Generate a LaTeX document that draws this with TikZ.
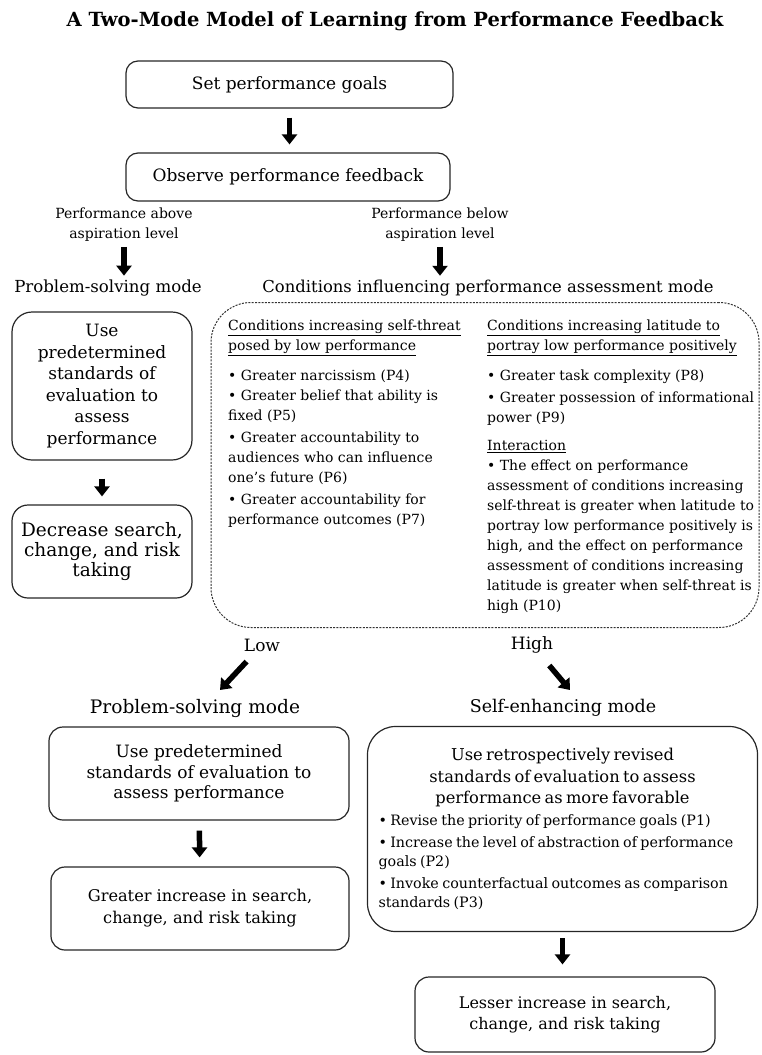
\documentclass[tikz,border=0pt]{standalone}
\usepackage{fontspec}
\setmainfont{DejaVu Serif}
\usepackage{tikz}
\usetikzlibrary{arrows.meta,positioning,calc}
\newcommand{\fsz}[2]{\fontsize{#1}{#2}\selectfont}
\tikzset{
	rbox/.style={draw=black!85, line width=1.2pt, rounded corners=12pt, align=center, inner sep=4pt},
	lbl/.style={align=center, inner sep=2pt},
	zone/.style={draw=black!80, line width=1pt, dash pattern=on 2pt off 1.3pt, rounded corners=40pt},
	col/.style={anchor=north west, align=left, inner sep=0pt, font=\fsz{14}{20}},
	blkarr/.style={line width=5.5pt, -{Triangle[width=15pt,length=10pt]}},
}

\begin{document}
\begin{tikzpicture}[x=1pt, y=-1pt, >=latex]
				\useasboundingbox (0,0) rectangle (762,1055);
				\node[lbl, font=\fsz{19.5}{22}\bfseries] at (395,21) (title) {A Two-Mode Model of Learning from Performance Feedback};
				\node[rbox, minimum width=327pt, minimum height=47pt, font=\fsz{17}{20}] at (289.5,84.5) (goals) {Set performance goals};
				\node[rbox, minimum width=324pt, minimum height=48pt, font=\fsz{17}{20}] at (288,177) (observe) {Observe performance feedback};
				\node[lbl, font=\fsz{14}{20}] at (124,225) (above) {Performance above\\aspiration level};
				\node[lbl, font=\fsz{14}{20}] at (440,225) (below) {Performance below\\aspiration level};
				\node[lbl, font=\fsz{16.6}{20}] at (108,288) (psmtop) {Problem-solving mode};
				\node[lbl, font=\fsz{16.4}{20}] at (488,288) (condlbl) {Conditions influencing performance assessment mode};
				\node[zone, minimum width=548pt, minimum height=325pt] at (485,465) (condzone) {};
				\node[rbox, rounded corners=20pt, minimum width=180pt, minimum height=148pt, font=\fsz{17}{21.5}] at (102,386) (useA) {Use\\predetermined\\standards of\\evaluation to\\assess\\performance};
				\node[rbox, rounded corners=16pt, minimum width=180pt, minimum height=93pt, font=\fsz{18.5}{20}] at (102,551.5) (decr) {Decrease search,\\change, and risk\\taking};
				\node[col] at (228,320) (threat) {\underline{Conditions increasing self-threat}\\
					\underline{posed by low performance}\\[10pt]
					• Greater narcissism (P4)\\
					• Greater belief that ability is\\
					fixed (P5)\\[2pt]
					• Greater accountability to\\
					audiences who can influence\\
					one's future (P6)\\[2pt]
					• Greater accountability for\\
					performance outcomes (P7)};
				\node[col] at (487,320) (latit) {\underline{Conditions increasing latitude to}\\
					\underline{portray low performance positively}\\[10pt]
					• Greater task complexity (P8)\\[2pt]
					• Greater possession of informational\\
					power (P9)\\[8pt]
					\underline{Interaction}\\
					• The effect on performance\\
					assessment of conditions increasing\\
					self-threat is greater when latitude to\\
					portray low performance positively is\\
					high, and the effect on performance\\
					assessment of conditions increasing\\
					latitude is greater when self-threat is\\
					high (P10)};
				\node[lbl, font=\fsz{17}{20}] at (262,645) (low) {Low};
				\node[lbl, font=\fsz{17}{20}] at (532,645) (high) {High};
				\node[lbl, font=\fsz{18.6}{20}] at (195,708) (psmbot) {Problem-solving mode};
				\node[lbl, font=\fsz{17.5}{20}] at (563,708) (selfenh) {Self-enhancing mode};
				\node[rbox, rounded corners=14pt, minimum width=300pt, minimum height=93pt, font=\fsz{17}{20.5}] at (199,773.5) (useC) {Use predetermined\\standards of evaluation to\\assess performance};
				\node[rbox, rounded corners=28pt, minimum width=390pt, minimum height=205pt, text width=368pt, inner xsep=11pt, align=left] at (562.5,829) (useD) {{\centering\fsz{16.3}{21.5}Use retrospectively revised\\standards of evaluation to assess\\performance as more favorable\par}\vspace{3pt}
					{\fsz{14.3}{19}• Revise the priority of performance goals (P1)\\[3pt]
					• Increase the level of abstraction of performance\\
					goals (P2)\\[3pt]
					• Invoke counterfactual outcomes as comparison\\
					standards (P3)\par}};
				\node[rbox, rounded corners=14pt, minimum width=298pt, minimum height=83pt, font=\fsz{16.2}{22}] at (200,908.5) (greater) {Greater increase in search,\\change, and risk taking};
				\node[rbox, rounded corners=14pt, minimum width=300pt, minimum height=75pt, font=\fsz{16}{21}] at (565,1014.5) (lesser) {Lesser increase in search,\\change, and risk taking};
				\coordinate (lowtip) at (220,690);
				\coordinate (hightip) at (570,690);
				\draw[blkarr, shorten <=9pt, shorten >=8pt] (goals.south) -- (goals.south |- observe.north);
				\draw[blkarr, shorten <=3pt, shorten >=2pt] (above.south) -- (above.south |- psmtop.north);
				\draw[blkarr, shorten <=3pt, shorten >=2pt] (below.south) -- (below.south |- condlbl.north);
				\draw[blkarr, shorten <=18pt, shorten >=8pt] (useA) -- (decr);
				\draw[blkarr, shorten <=11pt] (low) -- (lowtip);
				\draw[blkarr, shorten <=13pt] (high) -- (hightip);
				\draw[blkarr, shorten <=10pt, shorten >=9pt] (useC) -- (greater);
				\draw[blkarr, shorten <=6pt, shorten >=12pt] (useD.south) -- (useD.south |- lesser.north);
			\end{tikzpicture}
\end{document}
